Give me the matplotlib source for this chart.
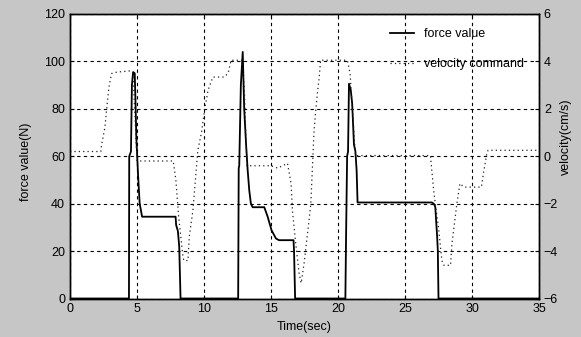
import matplotlib
matplotlib.use("Agg")
import matplotlib.pyplot as plt

# ---- data ----
t_force = [0, 4.40, 4.42, 4.55, 4.62, 4.71, 4.83, 4.88, 4.95, 5.08, 5.20, 5.38,
           7.88, 7.92, 8.05, 8.15, 8.25,
           12.55, 12.59, 12.63, 12.75, 12.89, 13.00, 13.14, 13.26, 13.38, 13.50, 13.63,
           14.50, 14.75, 15.04, 15.37, 15.60, 16.68, 16.72, 16.80,
           20.55, 20.60, 20.68, 20.75, 20.82, 20.95, 21.06, 21.19, 21.30, 21.39, 21.46,
           27.00, 27.15, 27.26, 27.40, 27.45, 27.50, 35]
force = [0, 0, 60, 62, 90, 95.5, 95, 85, 68, 52, 40, 34.5,
         34.5, 31, 28.5, 22, 0,
         0, 55, 56, 90, 104, 80, 65, 54, 45.5, 40, 38.5,
         38.5, 34.5, 28.8, 25.3, 24.6, 24.6, 20, 0,
         0, 25, 60, 62, 90.6, 88, 82, 65, 62, 54, 40.5,
         40.5, 40, 38.6, 26, 20, 0, 0]

t_vel = [0, 2.3, 2.35, 2.6, 2.73, 2.9, 3.1, 3.5, 4.5, 4.7, 5.0, 5.5, 7.7, 7.9, 8.1,
         8.43, 8.5, 8.8, 8.9, 9.17, 9.54, 9.8, 10.04, 10.3, 10.66, 11.5, 11.8, 12.02,
         12.8, 13.0, 13.2, 15.0, 15.5, 16.23, 16.5, 16.6, 16.85, 17.1, 17.25, 17.47,
         17.84, 17.97, 18.09, 18.2, 18.34, 18.46, 18.6, 18.7, 20.7, 20.9, 21.3,
         26.9, 27.0, 27.14, 27.26, 27.5, 27.75, 27.9, 28.4, 28.5, 28.75, 28.87,
         29.1, 29.4, 30.7, 30.85, 31.1, 31.2, 35]
velocity = [0.2, 0.2, 0.46, 1.2, 1.94, 2.9, 3.49, 3.55, 3.6, 3.5, -0.2, -0.2, -0.2, -1.0, -2.5,
            -4.25, -4.4, -4.4, -3.4, -2.3, 0.25, 0.96, 1.94, 2.78, 3.34, 3.34, 3.5, 4.05,
            4.05, 3.0, -0.4, -0.4, -0.5, -0.3, -1.15, -2.3, -3.7, -4.95, -5.35, -4.51,
            -2.7, -2.0, -0.5, 0.96, 1.94, 2.64, 3.34, 4.05, 4.05, 3.5, 0.03,
            0.03, -0.6, -1.44, -2.0, -3.0, -4.4, -4.6, -4.6, -3.7, -2.56, -2.0,
            -1.15, -1.3, -1.3, -0.73, 0.1, 0.25, 0.25]

x_ticks = [0, 5, 10, 15, 20, 25, 30, 35]
force_ticks = [0, 20, 40, 60, 80, 100, 120]
vel_ticks = [-6, -4, -2, 0, 2, 4, 6]

plt.rcParams['font.family'] = ['Liberation Sans', 'DejaVu Sans']

fig = plt.figure(figsize=(5.81, 3.37), dpi=100, facecolor='#c6c6c6')
ax = fig.add_axes([70/581, 1-298.5/337, 469/581, 284.5/337])
ax.set_facecolor('white')

ln1, = ax.plot(t_force, force, color='black', lw=1.3, label='force value')
ax.set_xlim(0, 35)
ax.set_ylim(0, 120)
ax.set_xticks(x_ticks)
ax.set_yticks(force_ticks)
ax.grid(True, color='black', linestyle=(0, (3, 3)), lw=0.8)
ax.tick_params(direction='in', labelsize=9, length=3, top=True)
ax.set_xlabel('Time(sec)', fontsize=9, labelpad=4)
ax.set_ylabel('force value(N)', fontsize=9)
ax.yaxis.set_label_coords(-0.082, 0.48)

ax2 = ax.twinx()
ln2, = ax2.plot(t_vel, velocity, color='#222222', lw=0.9, linestyle=(0, (1, 2.5)),
                label='velocity command')
ax2.set_ylim(-6, 6)
ax2.set_yticks(vel_ticks)
ax2.tick_params(direction='in', labelsize=9, length=3)
ax2.set_ylabel('velocity(cm/s)', fontsize=9)
ax2.yaxis.set_label_coords(1.045, 0.57)

for a in (ax, ax2):
    for s in a.spines.values():
        s.set_linewidth(1.0)

leg = ax.legend(handles=[ln1, ln2], loc='upper left', bbox_to_anchor=(0.683, 0.95),
                frameon=False, fontsize=9, handlelength=1.9, handletextpad=0.8,
                labelspacing=1.45, borderpad=0, borderaxespad=0)

fig.savefig('out.png', dpi=100, facecolor=fig.get_facecolor())
